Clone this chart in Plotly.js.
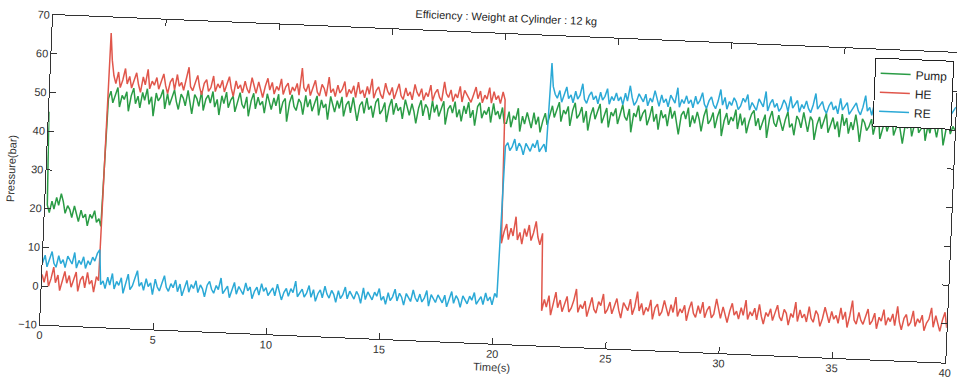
<!DOCTYPE html>
<html>
<head>
<meta charset="utf-8">
<script src="https://cdn.plot.ly/plotly-3.0.1.min.js"></script>
<style>
  html, body { margin: 0; padding: 0; width: 957px; height: 382px; overflow: hidden; background: #ffffff; }
  #chart { position: absolute; left: 0px; top: -20px; width: 967px; height: 390px;
           transform-origin: 53px 35px; transform: rotate(2.4deg); }
</style>
</head>
<body>
<div id="chart"></div>
<script>
// Recording is split in phases; each phase starts at a known time (s), samples every 0.1 s
const timeStep = 0.1;
const phaseStarts = [0, 2.6, 2.7, 20.2, 22.1];

// ---- Pump pressure (bar) per phase ----
const pumpPhase1 = [45, 21, 19, 22, 20, 23, 21, 24, 22, 19, 21, 20, 18, 21, 19, 17, 20, 18, 19, 16, 19, 18, 20, 17, 18, 16];
const pumpPhase2 = [49];
const pumpPhase3 = [
  51, 48, 50, 52, 47, 50, 49, 51, 46, 50,  52, 48, 50, 47, 51, 49, 52, 48, 50, 45,
  51, 49, 50, 52, 47, 51, 48, 50, 52, 49,  47, 51, 50, 48, 52, 49, 46, 51, 50, 48,
  52, 47, 50, 51, 49, 52, 48, 50, 46, 51,  49, 52, 48, 50, 51, 47, 50, 52, 49, 48,
  51, 46, 50, 52, 48, 51, 49, 50, 47, 52,  50, 48, 51, 49, 52, 47, 50, 51, 45, 50,
  52, 49, 48, 51, 50, 47, 52, 49, 51, 48,  50, 52, 47, 51, 49, 50, 46, 52, 50, 48,
  51, 49, 52, 47, 50, 51, 48, 52, 49, 46,  50, 51, 48, 52, 49, 50, 47, 51, 52, 48,
  49, 51, 46, 50, 52, 48, 51, 49, 50, 47,  52, 50, 48, 51, 49, 46, 50, 52, 48, 51,
  50, 47, 52, 49, 51, 48, 50, 52, 46, 50,  51, 49, 52, 48, 50, 47, 51, 49, 52, 48,
  50, 46, 51, 52, 48, 50, 49, 51, 47, 52,  49, 50, 48, 51, 47
];
const pumpPhase4 = [47, 50, 46, 49, 48, 51, 45, 49, 47, 50, 48, 46, 50, 47, 49, 45, 48, 50, 47];
const pumpPhase5 = [
  50, 52, 49, 51, 53, 48, 51, 50, 52, 47,  51, 53, 49, 50, 52, 48, 51, 46, 50, 52,
  49, 51, 53, 48, 50, 52, 47, 51, 50, 52,  48, 51, 53, 50, 49, 52, 46, 51, 50, 53,
  49, 51, 52, 48, 50, 53, 49, 51, 47, 52,  50, 51, 48, 53, 50, 52, 49, 46, 51, 52,
  50, 53, 48, 51, 49, 52, 50, 47, 51, 53,  49, 50, 52, 48, 51, 53, 46, 50, 52, 49,
  51, 50, 53, 48, 52, 49, 51, 47, 50, 52,  53, 49, 51, 48, 50, 52, 46, 51, 53, 50,
  49, 52, 50, 48, 51, 53, 49, 50, 47, 52,  51, 49, 53, 50, 48, 52, 51, 46, 50, 52,
  49, 51, 53, 48, 50, 52, 49, 51, 47, 53,  50, 52, 48, 51, 49, 53, 50, 46, 52, 51,
  49, 50, 52, 48, 51, 53, 47, 50, 52, 49,  51, 53, 48, 50, 52, 49, 46, 51, 50, 52,
  48, 51, 53, 49, 50, 52, 47, 51, 49, 53,  50, 48, 52, 51, 46, 50, 52, 49, 51, 50
];

// ---- HE pressure (bar) per phase ----
const hePhase1 = [3, 1, 4, 0, 2, 5, 1, 3, -1, 2, 4, 1, 3, 0, 2, 4, -1, 2, 3, 0, 4, 1, 2, -1, 3, 2];
const hePhase2 = [66];
const hePhase3 = [
  59, 55, 53, 56, 52, 54, 57, 53, 55, 52,  54, 56, 53, 51, 55, 53, 57, 52, 54, 53,
  55, 52, 54, 56, 53, 51, 54, 55, 52, 56,  53, 54, 52, 55, 58, 53, 52, 54, 56, 53,
  51, 54, 55, 52, 53, 56, 52, 54, 53, 55,  52, 54, 56, 53, 51, 55, 53, 54, 52, 55,
  53, 52, 56, 54, 52, 55, 53, 51, 54, 56,  53, 55, 52, 54, 53, 56, 52, 54, 55, 52,
  54, 53, 55, 52, 59, 54, 53, 55, 52, 54,  56, 53, 52, 55, 54, 52, 57, 53, 54, 52,
  55, 53, 54, 56, 52, 54, 53, 55, 52, 56,  53, 54, 52, 55, 53, 57, 52, 54, 55, 53,
  52, 56, 54, 53, 55, 52, 54, 56, 53, 52,  55, 53, 54, 52, 56, 54, 53, 55, 52, 54,
  53, 56, 52, 54, 55, 53, 52, 57, 54, 53,  55, 52, 54, 53, 56, 52, 55, 54, 53, 52,
  54, 56, 53, 55, 52, 54, 53, 56, 52, 55,  53, 54, 52, 55, 53
];
const hePhase4 = [16, 19, 21, 17, 20, 18, 23, 17, 19, 16, 20, 18, 21, 17, 19, 22, 18, 16, 19];
const hePhase5 = [
  -1, 2, 0, 3, -2, 1, 4, 0, 2, -1,   1, 3, -1, 0, 2, 5, -1, 1, 0, 2,
  -2, 1, 3, 0, -1, 2, 1, 4, -1, 0,   2, -1, 1, 3, 0, -2, 2, 1, 0, 3,
  -1, 1, 5, 0, 2, -1, 1, 0, 3, -2,   1, 2, -1, 0, 3, 1, -1, 2, 0, 4,
  -1, 1, 0, 2, -2, 1, 3, 0, -1, 2,   0, 3, -1, 1, 2, -1, 0, 4, 1, -1,
  2, 0, -2, 1, 3, 0, 1, -1, 2, 0,    4, -1, 1, 0, 2, -1, 3, 0, -2, 1,
  0, 2, -1, 1, 3, 0, -1, 2, 1, -2,   1, 0, 4, -1, 2, 0, 1, -1, 3, 0,
  -1, 2, 1, -2, 0, 3, 1, -1, 2, 0,   1, -1, 3, 0, 2, -2, 1, 5, 0, -1,
  2, 0, -1, 1, 3, -1, 0, 2, -2, 1,   0, 3, -1, 1, 0, 2, -1, 4, 0, -2,
  1, 2, -1, 0, 3, -1, 1, 0, 2, -2,   0, 1, 4, -1, 2, 0, -2, 1, 3, -1
];

// ---- RE pressure (bar) per phase ----
const rePhase1 = [6, 8, 5, 7, 9, 6, 5, 8, 6, 7, 5, 8, 7, 6, 9, 5, 7, 6, 8, 5, 7, 6, 8, 7, 9, 10];
const rePhase2 = [1];
const rePhase3 = [
  2, 0, 3, 1, 4, 0, 2, 1, 3, -1,   2, 4, 0, 1, 3, 5, 1, 2, 0, 3,
  1, 2, -1, 3, 1, 0, 2, 4, 1, 0,   2, 1, 3, 0, 2, -1, 1, 3, 0, 2,
  1, 3, 0, 2, 1, -1, 2, 3, 1, 0,   2, 1, 4, 0, 1, 2, -1, 1, 3, 0,
  2, 1, 0, 3, 1, 2, -1, 1, 2, 0,   3, 1, 2, 0, 1, 2, 0, 3, 1, -1,
  1, 2, 0, 2, 1, 4, 0, 1, 2, 0,    1, 3, 0, 2, -1, 1, 2, 0, 3, 1,
  0, 2, 1, -1, 2, 0, 1, 3, 0, 2,   1, 0, 2, 1, -1, 3, 0, 2, 1, 0,
  2, 1, 3, 0, 1, -1, 2, 0, 1, 3,   0, 2, 1, -1, 2, 1, 0, 3, 1, 0,
  2, 0, 1, 3, -1, 2, 1, 0, 2, 1,   0, 2, -1, 1, 3, 0, 2, 1, -1, 2,
  1, 0, 2, 1, 3, 0, 1, 2, 0, 3,    1, 2, 0, 3, 2
];
const rePhase4 = [41, 42, 40, 41, 43, 40, 42, 41, 39, 42, 41, 40, 42, 41, 43, 40, 41, 42, 40];
const rePhase5 = [
  63, 57, 55, 54, 56, 53, 55, 57, 54, 55,  53, 56, 54, 55, 58, 54, 53, 55, 56, 54,
  55, 53, 56, 54, 55, 57, 53, 55, 54, 56,  54, 55, 53, 56, 54, 58, 55, 53, 54, 56,
  55, 54, 56, 53, 55, 54, 57, 55, 53, 56,  54, 55, 53, 56, 55, 54, 58, 53, 55, 54,
  56, 54, 55, 53, 56, 54, 55, 57, 54, 53,  55, 56, 54, 53, 55, 58, 54, 56, 53, 55,
  54, 56, 55, 53, 54, 56, 55, 57, 53, 55,  54, 53, 56, 55, 54, 58, 53, 55, 56, 54,
  55, 53, 54, 56, 55, 53, 57, 54, 55, 56,  53, 55, 54, 56, 54, 53, 55, 58, 54, 55,
  56, 54, 53, 55, 56, 54, 55, 53, 57, 54,  55, 56, 53, 54, 55, 56, 54, 53, 55, 58,
  54, 55, 53, 56, 54, 55, 57, 54, 53, 55,  56, 54, 55, 53, 56, 54, 58, 55, 53, 54,
  55, 56, 54, 53, 55, 57, 54, 55, 56, 53,  54, 55, 56, 54, 53, 55, 57, 54, 55, 56
];

const seriesNames = ['Pump', 'HE', 'RE'];
const seriesColors = ['#2a9c45', '#e0564b', '#2ba9d6'];
const xTicks = [0, 5, 10, 15, 20, 25, 30, 35, 40];
const yTicks = [-10, 0, 10, 20, 30, 40, 50, 60, 70];

const seriesPhases = [
  [pumpPhase1, pumpPhase2, pumpPhase3, pumpPhase4, pumpPhase5],
  [hePhase1, hePhase2, hePhase3, hePhase4, hePhase5],
  [rePhase1, rePhase2, rePhase3, rePhase4, rePhase5]
];

function buildSeries(phases) {
  const x = [], y = [];
  phases.forEach((vals, p) => {
    vals.forEach((v, i) => {
      x.push(+(phaseStarts[p] + i * timeStep).toFixed(2));
      y.push(v);
    });
  });
  return { x, y };
}

const traces = seriesPhases.map((phases, k) => {
  const s = buildSeries(phases);
  return {
    type: 'scatter',
    mode: 'lines',
    name: seriesNames[k],
    x: s.x,
    y: s.y,
    line: { color: seriesColors[k], width: 1.5 }
  };
});

const axisFont = { family: 'Liberation Sans, Arial, sans-serif', size: 11, color: '#333' };

const layout = {
  width: 967,
  height: 390,
  margin: { l: 53, r: 8, t: 35, b: 45 },
  paper_bgcolor: '#ffffff',
  plot_bgcolor: '#ffffff',
  font: axisFont,
  showlegend: true,
  title: {
    text: 'Efficiency : Weight at Cylinder : 12 kg',
    font: { family: 'Liberation Sans, Arial, sans-serif', size: 11, color: '#222' },
    x: 0.5, xref: 'paper', xanchor: 'center',
    y: 0.952, yref: 'container', yanchor: 'middle'
  },
  xaxis: {
    range: [0, 40],
    tickvals: xTicks,
    ticks: 'inside', ticklen: 6, tickcolor: '#333',
    showline: true, linecolor: '#333', linewidth: 1, mirror: 'ticks',
    showgrid: false, zeroline: false,
    tickfont: axisFont,
    title: { text: 'Time(s)', font: axisFont, standoff: 4 }
  },
  yaxis: {
    range: [-10, 70],
    tickvals: yTicks,
    ticks: 'inside', ticklen: 6, tickcolor: '#333',
    showline: true, linecolor: '#333', linewidth: 1, mirror: 'ticks',
    showgrid: false, zeroline: false,
    tickfont: axisFont,
    title: { text: 'Pressure(bar)', font: axisFont, standoff: 6 }
  },
  legend: {
    x: 0.996, xanchor: 'right', y: 0.974, yanchor: 'top',
    bgcolor: '#ffffff', bordercolor: '#222', borderwidth: 1,
    font: { family: 'Liberation Sans, Arial, sans-serif', size: 12, color: '#222' },
    tracegroupgap: 0
  }
};

Plotly.newPlot('chart', traces, layout, { displayModeBar: false, staticPlot: true });
</script>
</body>
</html>
